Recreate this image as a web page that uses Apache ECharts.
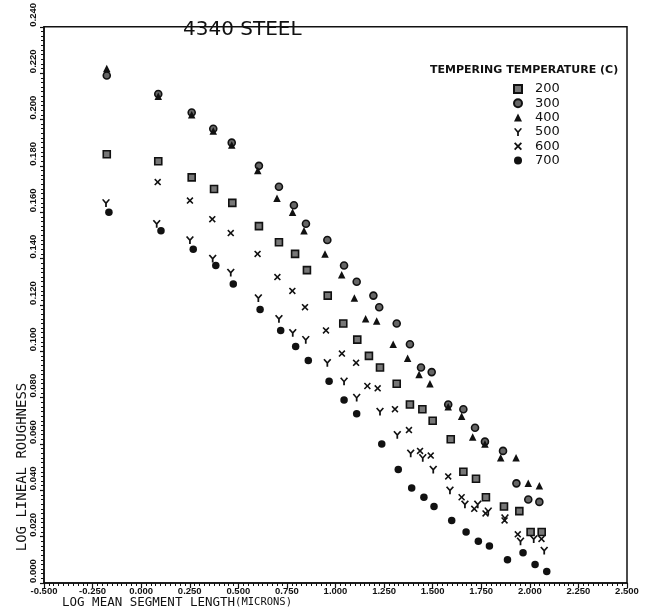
<!DOCTYPE html>
<html>
<head>
<meta charset="utf-8">
<script src="https://cdn.jsdelivr.net/npm/echarts@6/dist/echarts.min.js"></script>
<style>
html,body{margin:0;padding:0;background:#fff;}
#chart{width:645px;height:616px;}
</style>
</head>
<body>
<div id="chart"></div>
<script>
// ---- data (log mean segment length, log lineal roughness) ----
const seriesNames = ['200', '300', '400', '500', '600', '700'];

const x200 = [-0.177, 0.088, 0.260, 0.375, 0.469, 0.606, 0.709, 0.792, 0.853, 0.960, 1.040, 1.112, 1.172, 1.229, 1.315, 1.383, 1.447, 1.500, 1.593, 1.658, 1.723, 1.774, 1.867, 1.946, 2.004, 2.061];
const y200 = [0.185, 0.182, 0.175, 0.170, 0.164, 0.154, 0.147, 0.142, 0.135, 0.124, 0.112, 0.105, 0.098, 0.093, 0.086, 0.077, 0.075, 0.070, 0.062, 0.048, 0.045, 0.037, 0.033, 0.031, 0.022, 0.022];

const x300 = [-0.177, 0.088, 0.260, 0.371, 0.466, 0.606, 0.709, 0.786, 0.848, 0.958, 1.044, 1.109, 1.195, 1.225, 1.315, 1.383, 1.440, 1.495, 1.580, 1.658, 1.718, 1.769, 1.862, 1.931, 1.992, 2.049];
const y300 = [0.219, 0.211, 0.203, 0.196, 0.190, 0.180, 0.171, 0.163, 0.155, 0.148, 0.137, 0.130, 0.124, 0.119, 0.112, 0.103, 0.093, 0.091, 0.077, 0.075, 0.067, 0.061, 0.057, 0.043, 0.036, 0.035];

const x400 = [-0.177, 0.088, 0.260, 0.371, 0.466, 0.600, 0.699, 0.779, 0.838, 0.946, 1.032, 1.097, 1.155, 1.212, 1.297, 1.371, 1.430, 1.486, 1.580, 1.649, 1.706, 1.769, 1.850, 1.929, 1.992, 2.049];
const y400 = [0.222, 0.210, 0.202, 0.195, 0.189, 0.178, 0.166, 0.160, 0.152, 0.142, 0.133, 0.123, 0.114, 0.113, 0.103, 0.097, 0.090, 0.086, 0.076, 0.072, 0.063, 0.060, 0.054, 0.054, 0.043, 0.042];

const x500 = [-0.181, 0.080, 0.251, 0.368, 0.461, 0.603, 0.709, 0.780, 0.847, 0.958, 1.044, 1.109, 1.229, 1.318, 1.387, 1.449, 1.503, 1.589, 1.666, 1.732, 1.786, 1.872, 1.952, 2.020, 2.074];
const y500 = [0.164, 0.155, 0.148, 0.140, 0.134, 0.123, 0.114, 0.108, 0.105, 0.095, 0.087, 0.080, 0.074, 0.064, 0.056, 0.054, 0.049, 0.040, 0.034, 0.034, 0.031, 0.028, 0.018, 0.019, 0.014];

const x600 = [0.085, 0.251, 0.366, 0.461, 0.599, 0.701, 0.778, 0.843, 0.951, 1.033, 1.106, 1.164, 1.217, 1.306, 1.378, 1.435, 1.490, 1.580, 1.649, 1.714, 1.772, 1.870, 1.938, 2.060];
const y600 = [0.173, 0.165, 0.157, 0.151, 0.142, 0.132, 0.126, 0.119, 0.109, 0.099, 0.095, 0.085, 0.084, 0.075, 0.066, 0.057, 0.055, 0.046, 0.037, 0.032, 0.030, 0.027, 0.021, 0.019];

const x700 = [-0.166, 0.102, 0.268, 0.384, 0.474, 0.612, 0.718, 0.795, 0.860, 0.967, 1.044, 1.109, 1.238, 1.323, 1.392, 1.455, 1.507, 1.598, 1.672, 1.735, 1.792, 1.885, 1.965, 2.027, 2.087];
const y700 = [0.160, 0.152, 0.144, 0.137, 0.129, 0.118, 0.109, 0.102, 0.096, 0.087, 0.079, 0.073, 0.060, 0.049, 0.041, 0.037, 0.033, 0.027, 0.022, 0.018, 0.016, 0.010, 0.013, 0.008, 0.005];

const xTicks = { min: -0.5, max: 2.5, interval: 0.25 };
const yTicks = { min: 0, max: 0.24, interval: 0.02 };

const title = '4340 STEEL';
const legendTitle = 'TEMPERING TEMPERATURE (C)';
const xName = 'LOG MEAN SEGMENT LENGTH';
const xUnit = '(MICRONS)';
const yName = 'LOG LINEAL ROUGHNESS';

// ---- chart ----
const zip = (xs, ys) => xs.map((v, i) => [v, ys[i]]);
const allX = [x200, x300, x400, x500, x600, x700];
const allY = [y200, y300, y400, y500, y600, y700];

const symY = 'path://M0,1.2 L1.6,0 L5,3.8 L8.4,0 L10,1.2 L6.1,5.6 L6.1,10 L3.9,10 L3.9,5.6 Z';
const symX = 'path://M0,1.6 L1.6,0 L5,3.4 L8.4,0 L10,1.6 L6.6,5 L10,8.4 L8.4,10 L5,6.6 L1.6,10 L0,8.4 L3.4,5 Z';

const styles = [
  { symbol: 'rect', size: 7, color: '#777', border: '#111', bw: 1.6 },
  { symbol: 'circle', size: 7, color: '#666', border: '#111', bw: 1.6 },
  { symbol: 'triangle', size: 7.5, color: '#111', border: '#111', bw: 0 },
  { symbol: symY, size: 8, color: '#111', border: '#111', bw: 0 },
  { symbol: symX, size: 7, color: '#111', border: '#111', bw: 0 },
  { symbol: 'circle', size: 7.5, color: '#111', border: '#111', bw: 0 }
];

const series = seriesNames.map((name, i) => ({
  name: name,
  type: 'scatter',
  data: zip(allX[i], allY[i]),
  symbol: styles[i].symbol,
  symbolSize: styles[i].size,
  itemStyle: { color: styles[i].color, borderColor: styles[i].border, borderWidth: styles[i].bw, opacity: 1 },
  emphasis: { disabled: true },
  z: 2 + i
}));

const chart = echarts.init(document.getElementById('chart'), null, { renderer: 'canvas' });
chart.setOption({
  animation: false,
  backgroundColor: '#fff',
  grid: { left: 44, right: 18, top: 24, bottom: 33, show: true, borderColor: '#111', borderWidth: 1.5, backgroundColor: 'transparent' },
  xAxis: {
    type: 'value',
    min: xTicks.min, max: xTicks.max, interval: xTicks.interval,
    axisLine: { show: true, onZero: false, lineStyle: { color: '#111', width: 1.5 } },
    axisTick: { show: true, length: 5, inside: false, lineStyle: { color: '#111', width: 1.2 } },
    minorTick: { show: true, splitNumber: 10, length: 3, lineStyle: { color: '#111', width: 1 } },
    splitLine: { show: false },
    axisLabel: {
      margin: 3, color: '#111', fontFamily: 'Liberation Sans', fontWeight: 'bold', fontSize: 9.5,
      formatter: v => v.toFixed(3)
    }
  },
  yAxis: {
    type: 'value',
    min: yTicks.min, max: yTicks.max, interval: yTicks.interval,
    axisLine: { show: true, onZero: false, lineStyle: { color: '#111', width: 1.5 } },
    axisTick: { show: true, length: 4, inside: false, lineStyle: { color: '#111', width: 1.2 } },
    minorTick: { show: true, splitNumber: 10, length: 3, lineStyle: { color: '#111', width: 1 } },
    splitLine: { show: false },
    axisLabel: {
      rotate: 90, align: 'left', verticalAlign: 'bottom', margin: 6,
      color: '#111', fontFamily: 'Liberation Sans', fontWeight: 'bold', fontSize: 9.5,
      formatter: v => v.toFixed(3)
    }
  },
  legend: {
    data: seriesNames,
    orient: 'vertical',
    left: 508, top: 77,
    itemWidth: 8, itemHeight: 8, itemGap: 0.3,
    textStyle: { fontFamily: 'DejaVu Sans', fontSize: 13, lineHeight: 14, color: '#111', padding: [0, 0, 0, 8] },
    selectedMode: false
  },
  graphic: [
    { type: 'text', left: 183, top: 20, style: { text: title, fontFamily: 'DejaVu Sans', fontSize: 20, fill: '#111' } },
    { type: 'text', left: 430, top: 65, style: { text: legendTitle, fontFamily: 'DejaVu Sans', fontWeight: 'bold', fontSize: 11, fill: '#111' } },
    { type: 'text', left: 62, top: 596, style: {
        rich: { a: { fontFamily: 'DejaVu Sans Mono', fontSize: 12.5, fill: '#111' }, b: { fontFamily: 'DejaVu Sans Mono', fontSize: 10.5, fill: '#111' } },
        text: '{a|' + xName + '}{b|' + xUnit + '}' } },
    { type: 'text', x: 22, y: 467, rotation: Math.PI / 2,
      style: { text: yName, fontFamily: 'DejaVu Sans Mono', fontSize: 14, fill: '#111', align: 'center', verticalAlign: 'middle' } }
  ],
  series: series
});
</script>
</body>
</html>
